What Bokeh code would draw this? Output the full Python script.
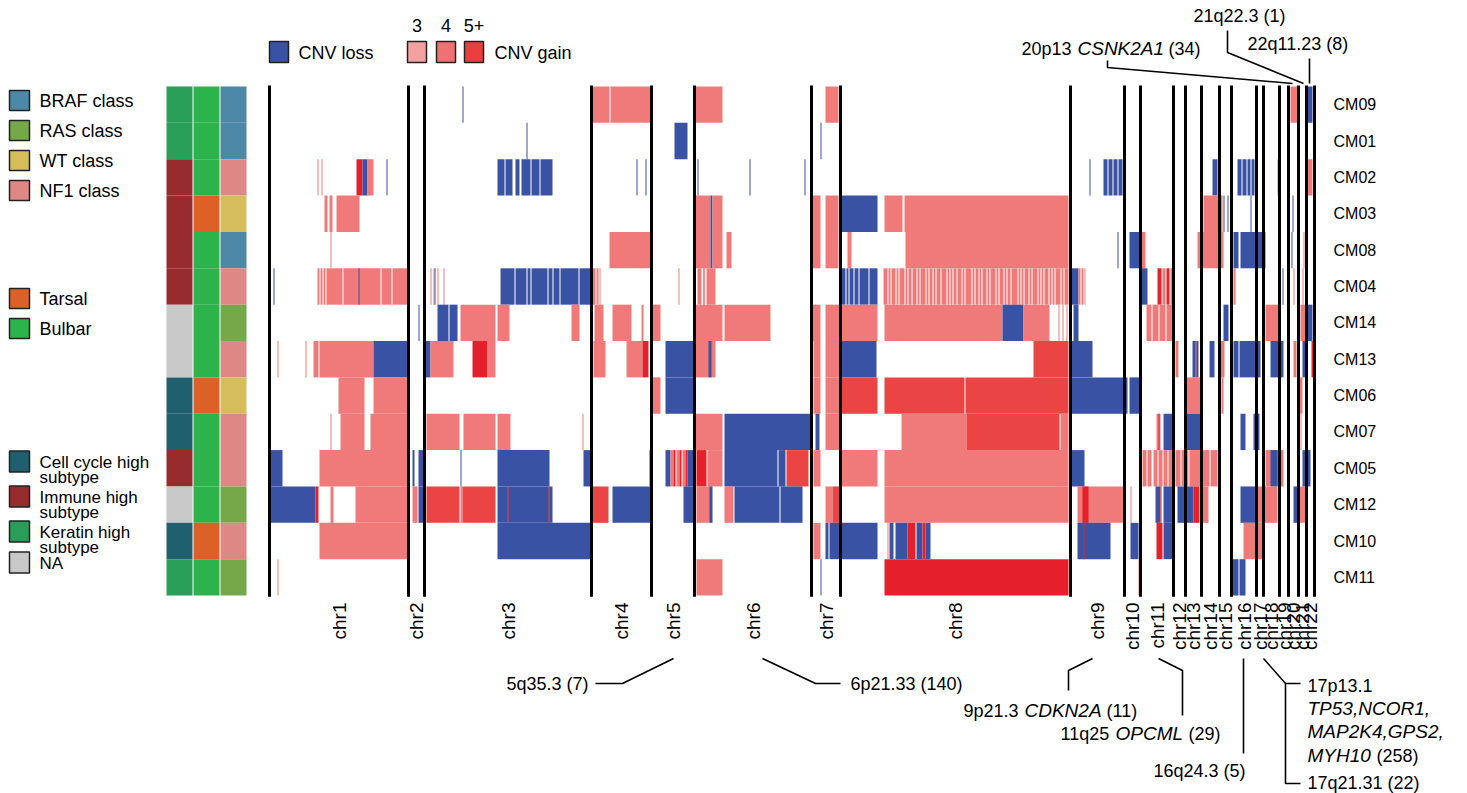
import math
from bokeh.plotting import figure
from bokeh.models import Range1d, Label
from bokeh.core.properties import value
from bokeh.embed import file_html
from bokeh.resources import INLINE

# ---------------- data ----------------
samples = ["CM09", "CM01", "CM02", "CM03", "CM08", "CM04", "CM14",
           "CM13", "CM06", "CM07", "CM05", "CM12", "CM10", "CM11"]

chrom_names = ["chr1", "chr2", "chr3", "chr4", "chr5", "chr6", "chr7", "chr8",
               "chr9", "chr10", "chr11", "chr12", "chr13", "chr14", "chr15",
               "chr16", "chr17", "chr18", "chr19", "chr20", "chr21", "chr22"]
# chromosome widths in genome bins
chrom_sizes = [139, 16, 167, 60, 43, 117, 29, 230, 54, 16, 33, 12, 16, 18, 12,
               25, 7, 16, 9, 10, 8, 8]

subtype = ["Keratin", "Keratin", "Immune", "Immune", "Immune", "Immune", "NA",
           "NA", "Cell cycle", "Cell cycle", "Immune", "NA", "Cell cycle", "Keratin"]
site = ["Bulbar", "Bulbar", "Bulbar", "Tarsal", "Bulbar", "Bulbar", "Bulbar",
        "Bulbar", "Tarsal", "Bulbar", "Bulbar", "Bulbar", "Tarsal", "Bulbar"]
mclass = ["BRAF", "BRAF", "NF1", "WT", "BRAF", "NF1", "RAS", "NF1", "WT", "NF1",
          "NF1", "RAS", "NF1", "RAS"]

# CNV segments per sample: (start bin, end bin, level) ; level -1 = loss, 3/4/5 = gain copies
seg_CM09 = [(193, 194, -1), (322, 340, 3), (341, 381, 3), (426, 453, 3), (556, 569, 3),
            (1021, 1028, 3), (1038, 1043, -1)]
seg_CM01 = [(257, 258, -1), (405, 418, -1), (551, 552, -1)]
seg_CM02 = [(48, 49, 3), (52, 53, 3), (87, 93, 5), (93, 98, -1), (98, 104, 3), (117, 118, -1),
            (228, 235, -1), (236, 243, -1), (246, 250, -1), (252, 261, -1), (262, 270, -1),
            (271, 283, -1), (367, 368, -1), (376, 377, -1), (428, 429, -1), (480, 481, -1),
            (535, 536, -1), (820, 821, -1), (834, 838, -1), (839, 843, -1), (844, 848, -1),
            (849, 853, -1), (943, 948, -1), (968, 972, -1), (973, 977, -1), (978, 981, -1),
            (982, 985, -1), (993, 995, 3), (1008, 1009, 3), (1038, 1043, 3)]
seg_CM03 = [(55, 58, 3), (60, 63, 3), (67, 90, 3), (426, 441, 3), (441, 443, -1), (443, 453, 3),
            (543, 551, 3), (556, 569, 3), (572, 608, -1), (615, 633, 3), (635, 799, 3),
            (934, 953, 3), (954, 955, -1), (958, 959, -1), (981, 982, -1), (993, 994, -1),
            (1023, 1024, -1)]
seg_CM08 = [(61, 62, 3), (340, 381, 3), (426, 441, 3), (441, 443, -1), (443, 453, 3),
            (457, 462, 3), (543, 551, 3), (556, 569, 3), (578, 582, 3), (636, 799, 3),
            (848, 849, -1), (860, 871, -1), (871, 876, 3), (928, 954, 3), (964, 969, -1),
            (971, 996, -1), (1022, 1023, -1), (1034, 1035, 3)]
seg_CM04 = [(4, 5, -1), (48, 50, 3), (51, 53, 3), (54, 56, 3), (57, 73, 3), (74, 111, 3),
            (112, 122, 3), (123, 139, 3), (89, 90, -1),
            (161, 162, 3), (164, 165, 3), (165, 166, -1), (168, 169, 3), (174, 175, 3),
            (231, 245, -1), (246, 257, -1), (258, 261, -1), (262, 278, -1), (279, 283, -1),
            (284, 290, -1), (291, 309, -1), (310, 321, -1), (323, 326, 3), (327, 329, 3),
            (330, 331, 3), (409, 410, 3), (428, 432, 3), (434, 435, 5), (437, 446, 3),
            (572, 576, -1), (577, 579, -1), (580, 584, -1), (585, 589, -1), (590, 599, -1),
            (600, 608, -1),
            (614, 618, 3), (619, 621, 3), (622, 626, 3), (627, 629, 3), (630, 635, 3),
            (636, 638, 3), (639, 642, 3), (643, 647, 3), (648, 650, 3), (651, 656, 3),
            (657, 659, 3), (660, 663, 3), (664, 666, 3), (667, 671, 3), (672, 677, 3),
            (678, 680, 3), (681, 683, 3), (684, 687, 3), (688, 692, 3), (693, 695, 3),
            (696, 702, 3), (703, 705, 3), (706, 709, 3), (710, 712, 3), (713, 717, 3),
            (718, 720, 3), (721, 726, 3), (727, 729, 3), (730, 734, 3), (735, 737, 3),
            (738, 741, 3), (742, 748, 3), (749, 751, 3), (752, 754, 3), (755, 759, 3),
            (760, 762, 3), (763, 768, 3), (769, 771, 3), (772, 774, 3), (775, 779, 3),
            (780, 782, 3), (783, 785, 3), (786, 791, 3), (792, 794, 3), (795, 799, 3),
            (801, 809, -1), (809, 811, 3), (812, 814, 3), (815, 816, 3), (871, 878, -1),
            (888, 892, 5), (893, 896, 3), (897, 900, 5), (901, 903, 3), (964, 966, 3),
            (1013, 1014, -1), (1024, 1025, 3), (1033, 1034, 3)]
seg_CM14 = [(149, 150, -1), (168, 179, -1), (180, 188, -1), (191, 226, 3), (228, 240, 3),
            (302, 310, 3), (325, 334, 3), (343, 362, 3), (372, 374, 3), (383, 391, 3),
            (426, 453, 3), (455, 501, 3), (543, 551, 3), (556, 571, 3), (572, 608, 3),
            (615, 733, 3), (733, 754, -1), (754, 780, 3), (789, 790, 3), (793, 794, 3),
            (797, 798, 3), (804, 809, -1), (877, 882, 3), (883, 889, 3), (890, 896, 3),
            (897, 903, 3), (954, 959, -1), (996, 1009, 3), (1031, 1038, 3), (1038, 1043, -1)]
seg_CM13 = [(8, 9, 3), (36, 37, 3), (44, 49, 3), (50, 104, 3), (104, 139, -1), (154, 161, -1),
            (161, 184, 3), (203, 218, 5), (218, 226, 3), (324, 336, 3), (357, 373, 3),
            (373, 379, 5), (396, 424, -1), (426, 446, 3), (439, 442, -1), (544, 551, 3),
            (556, 571, 3), (572, 607, -1), (764, 799, 4), (801, 823, -1), (906, 909, 3),
            (923, 929, -1), (926, 927, 3), (940, 945, -1), (951, 955, 3), (964, 969, -1),
            (970, 991, -1), (1001, 1014, -1), (1024, 1027, 3), (1033, 1038, -1), (1042, 1044, 5)]
seg_CM06 = [(69, 95, 3), (104, 139, 3), (383, 391, 3), (396, 424, -1), (544, 551, 3),
            (556, 571, 3), (572, 608, 4), (615, 695, 4), (696, 799, 4), (801, 858, -1),
            (860, 870, -1), (916, 931, 3), (952, 954, 3), (1030, 1033, 3)]
seg_CM07 = [(61, 62, 3), (71, 95, 3), (101, 139, 3), (157, 190, 3), (194, 226, 3),
            (228, 241, 3), (313, 314, 3), (426, 453, 3), (455, 541, -1), (546, 550, -1),
            (556, 571, 3), (632, 697, 3), (697, 790, 4), (791, 799, 3), (887, 891, 3),
            (889, 890, 5), (894, 904, -1), (917, 931, -1), (971, 976, -1), (984, 990, -1),
            (1031, 1032, 3)]
seg_CM05 = [(1, 13, -1), (50, 139, 3), (143, 145, -1), (149, 154, -1), (191, 192, -1),
            (228, 280, -1), (314, 321, -1), (380, 381, -1), (396, 401, -1), (401, 404, 3),
            (404, 406, 5), (407, 410, 3), (410, 412, 5), (413, 416, 3), (416, 418, 5),
            (418, 424, -1), (427, 437, 5), (438, 453, 3), (455, 508, -1), (509, 516, -1),
            (517, 539, 4), (544, 551, 3), (572, 608, 3), (615, 799, 3), (801, 815, -1),
            (873, 877, 3), (878, 882, 3), (884, 888, 3), (889, 893, 3), (894, 898, 3),
            (899, 904, 3), (906, 911, 3), (912, 919, 3), (920, 931, 3), (933, 940, 3),
            (941, 948, 3), (996, 1014, 3), (1001, 1008, -1), (1033, 1041, -1)]
seg_CM12 = [(1, 46, -1), (46, 49, 5), (61, 64, 3), (86, 139, 3), (143, 148, 3),
            (149, 154, -1), (157, 190, 4), (191, 193, 3), (193, 226, 4), (228, 283, -1),
            (238, 239, 4), (279, 280, 4), (323, 339, 4), (343, 381, -1), (414, 424, -1),
            (427, 441, 3), (440, 443, -1), (455, 464, 3), (465, 510, -1), (511, 533, -1),
            (556, 563, 3), (563, 570, 4), (615, 799, 3), (808, 856, 3), (813, 819, 5),
            (861, 862, 3), (886, 891, -1), (891, 892, 5), (894, 904, -1), (908, 924, -1),
            (924, 930, 5), (931, 939, 3), (971, 988, -1), (988, 1008, 3), (1024, 1028, -1),
            (1028, 1038, 3)]
seg_CM10 = [(50, 139, 3), (228, 321, -1), (544, 551, 3), (556, 559, -1), (560, 571, -1),
            (571, 608, -1), (618, 619, 3), (620, 624, -1), (626, 638, -1), (638, 646, 5),
            (647, 653, -1), (653, 656, 5), (656, 661, -1), (808, 841, -1), (814, 815, 5),
            (861, 869, -1), (887, 893, 5), (894, 903, -1), (974, 993, 3)]
seg_CM11 = [(8, 9, 3), (427, 453, 3), (551, 552, -1), (615, 799, 5), (869, 870, 3),
            (963, 969, -1), (970, 976, -1)]

segments = [seg_CM09, seg_CM01, seg_CM02, seg_CM03, seg_CM08, seg_CM04, seg_CM14,
            seg_CM13, seg_CM06, seg_CM07, seg_CM05, seg_CM12, seg_CM10, seg_CM11]

# ---------------- styles ----------------
cnv_colors = {-1: "#3A52A3", 3: "#F07A7A", 4: "#EB4444", 5: "#E6202A"}
subtype_colors = {"Cell cycle": "#1F5F6E", "Immune": "#982B2E", "Keratin": "#289E58", "NA": "#C8C8C8"}
site_colors = {"Tarsal": "#DC6128", "Bulbar": "#2DB34B"}
class_colors = {"BRAF": "#4E88A7", "RAS": "#75A848", "WT": "#D6BD5C", "NF1": "#DE8886"}
FONT = "Liberation Sans"

# layout helpers: pixel positions of the page -> data coordinates
X0, Y0, RH = 269.0, 86.0, 36.36
W, H = 1467, 793


def X(px):
    return px - X0


def Y(py):
    return (py - Y0) / RH


p = figure(width=W, height=H, x_range=Range1d(X(0), X(W)), y_range=Range1d(Y(H), Y(0)),
           toolbar_location=None, output_backend="svg", min_border=0,
           x_axis_location=None, y_axis_location=None)
p.outline_line_color = None
p.grid.visible = False
p.background_fill_color = "white"
p.border_fill_color = "white"

# ---------------- heatmap ----------------
left, right, top, bottom, colors = [], [], [], [], []
for i, segs in enumerate(segments):
    for a, b, lev in segs:
        left.append(a)
        right.append(b)
        top.append(i)
        bottom.append(i + 1)
        colors.append(cnv_colors[lev])
p.quad(left=left, right=right, top=top, bottom=bottom, fill_color=colors, line_color=None)

# chromosome boundaries
bounds = [0]
for s in chrom_sizes:
    bounds.append(bounds[-1] + s)
p.segment(x0=bounds, y0=[-0.03] * len(bounds), x1=bounds, y1=[len(samples) + 0.03] * len(bounds),
          line_color="black", line_width=3)

# chromosome labels
mids = [(bounds[k] + bounds[k + 1]) / 2 for k in range(len(chrom_sizes))]
p.text(x=mids, y=[Y(602)] * len(mids), text=chrom_names, angle=math.pi / 2,
       text_align="right", text_baseline="middle", text_font=value(FONT),
       text_font_size=value("19px"), text_color="black")

# sample labels
p.text(x=[X(1333)] * len(samples), y=[i + 0.5 for i in range(len(samples))], text=samples,
       text_align="left", text_baseline="middle", text_font=value(FONT),
       text_font_size=value("16px"), text_color="black")

# ---------------- annotation columns ----------------
ann_cols = [(subtype, subtype_colors, 166, 192), (site, site_colors, 193, 219),
            (mclass, class_colors, 220, 246)]
for vals, cmap, xa, xb in ann_cols:
    p.quad(left=[X(xa)] * len(vals), right=[X(xb)] * len(vals),
           top=list(range(len(vals))), bottom=[i + 1 for i in range(len(vals))],
           fill_color=[cmap[v] for v in vals], line_color=None)


def label(txt, px, py, size="18px", style="normal", align="left", angle=0.0):
    p.add_layout(Label(x=X(px), y=Y(py), text=txt, text_font=FONT, text_font_size=size,
                       text_font_style=style, text_align=align, text_baseline="middle",
                       text_color="black", angle=angle))


def swatch(color, xa, xb, ya, yb):
    p.quad(left=[X(xa)], right=[X(xb)], top=[Y(ya)], bottom=[Y(yb)], fill_color=color,
           line_color="#222222", line_width=1.5)


# ---------------- left legends ----------------
legend_class = [("BRAF class", class_colors["BRAF"], 100), ("RAS class", class_colors["RAS"], 130),
                ("WT class", class_colors["WT"], 160), ("NF1 class", class_colors["NF1"], 190)]
for txt, col, cy in legend_class:
    swatch(col, 9, 29, cy - 10, cy + 10)
    label(txt, 39, cy)
for txt, col, cy in [("Tarsal", site_colors["Tarsal"], 298), ("Bulbar", site_colors["Bulbar"], 328)]:
    swatch(col, 9, 29, cy - 10, cy + 10)
    label(txt, 39, cy)
legend_sub = [(["Cell cycle high", "subtype"], subtype_colors["Cell cycle"], 461),
              (["Immune high", "subtype"], subtype_colors["Immune"], 496),
              (["Keratin high", "subtype"], subtype_colors["Keratin"], 531),
              (["NA"], subtype_colors["NA"], 562)]
for lines, col, cy in legend_sub:
    swatch(col, 9, 29, cy - 10.5, cy + 10.5)
    for k, ln in enumerate(lines):
        label(ln, 39, cy + 1 + 14.5 * k, size="17px")

# ---------------- top CNV legend ----------------
swatch(cnv_colors[-1], 269, 288, 41, 62)
label("CNV loss", 298, 52)
for txt, col, xa in [("3", "#F3A0A0", 407), ("4", "#EF7070", 436), ("5+", "#E93F3F", 464)]:
    swatch(col, xa, xa + 19, 41, 62)
    label(txt, xa + 9.5, 25, align="center")
label("CNV gain", 494, 52)

# ---------------- callouts ----------------
callout_lines = [
    [(1107, 60), (1107, 67), (1292, 83)],
    [(1227, 30), (1227, 52), (1303, 83)],
    [(1309, 58), (1309, 83)],
    [(595, 683), (622, 683), (673, 658)],
    [(762, 658), (815, 683), (840, 683)],
    [(1092, 658), (1068, 670), (1068, 690)],
    [(1158, 658), (1182, 670), (1182, 715)],
    [(1243, 658), (1243, 753)],
    [(1263, 658), (1285, 683), (1300, 683)],
    [(1285, 683), (1285, 783), (1300, 783)],
]
p.multi_line(xs=[[X(a) for a, b in ln] for ln in callout_lines],
             ys=[[Y(b) for a, b in ln] for ln in callout_lines],
             line_color="black", line_width=1.6)

label("20p13", 1021, 48)
label("CSNK2A1", 1077, 48, style="italic", size="19px")
label("(34)", 1168, 48)
label("21q22.3 (1)", 1193, 15)
label("22q11.23 (8)", 1247, 43)
label("5q35.3 (7)", 588, 683, align="right")
label("6p21.33 (140)", 850, 683)
label("9p21.3", 963, 710)
label("CDKN2A", 1024, 710, style="italic", size="19px")
label("(11)", 1106, 710)
label("11q25", 1060, 733)
label("OPCML", 1115, 733, style="italic", size="19px")
label("(29)", 1188, 733)
label("16q24.3 (5)", 1153, 770)
label("17p13.1", 1307, 685)
label("TP53,NCOR1,", 1307, 708, style="italic", size="19px")
label("MAP2K4,GPS2,", 1307, 731, style="italic", size="19px")
label("MYH10", 1307, 755, style="italic", size="19px")
label("(258)", 1376, 755)
label("17q21.31 (22)", 1307, 782)

open("out.html", "w").write(file_html(p, INLINE))
